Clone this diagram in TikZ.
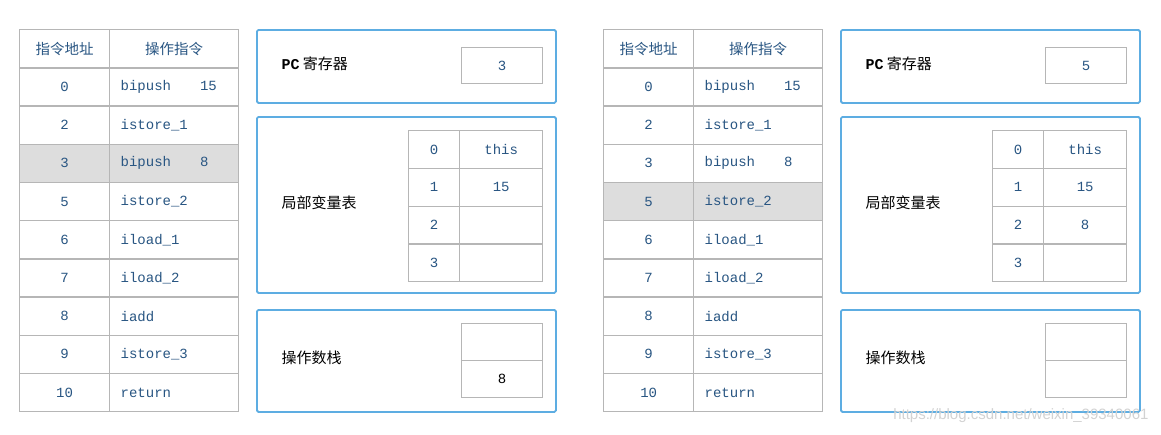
\documentclass[tikz,border=0pt]{standalone}
\usepackage{fontspec}
\setmainfont{Liberation Sans}
\setmonofont{Liberation Mono}
\newfontfamily\cjk{Noto Sans CJK SC}
\usetikzlibrary{positioning}
\definecolor{frameblue}{RGB}{93,173,226}
\definecolor{gridgray}{RGB}{182,182,182}
\definecolor{codeblue}{RGB}{40,85,130}
\definecolor{rowgray}{RGB}{221,221,221}

\tikzset{
    cell/.style={draw=gridgray, line width=1.3pt, inner sep=0pt, anchor=north west,
        text=codeblue, font=\fontsize{14}{16}\selectfont\ttfamily},
    addr/.style={cell, minimum width=90pt, minimum height=38.2pt},
    instr/.style={cell, minimum height=38.2pt, text width=107pt, inner xsep=11pt, align=left},
    head/.style={cell, minimum height=38.2pt, font=\fontsize{14.5}{16}\selectfont\cjk},
    panel/.style={draw=frameblue, line width=1.8pt, rounded corners=1.5pt, inner sep=0pt,
        anchor=north west, minimum width=299pt},
    tag/.style={anchor=west, text=black, font=\fontsize{15}{17}\selectfont\cjk},
}

\begin{document}
\begin{tikzpicture}[x=1pt, y=-1pt]
    \useasboundingbox (0,0) rectangle (1161,434);
    % s / shift / highlighted row / pc / local 2 / stack top
    \foreach \s/\dx/\hl/\pc/\lv/\st in {l/0/3/3/{}/8, r/584/4/5/8/{}} {
    \begin{scope}[xshift=\dx pt]
        % instruction table
        \node[head, minimum width=90pt] (\s ah) at (19,29) {指令地址};
        \node[head, minimum width=129pt] (\s oh) at (109,29) {操作指令};
        \foreach \a/\op [count=\i] in {0/{bipush\hspace{29pt}15}, 2/istore\_1, 3/{bipush\hspace{29pt}8},
            5/istore\_2, 6/iload\_1, 7/iload\_2, 8/iadd, 9/istore\_3, 10/return} {
            \ifnum\i=\hl \def\bg{rowgray}\else\def\bg{white}\fi
            \node[addr, fill=\bg] (\s a\i) at (19,29+38.2*\i) {\a};
            \node[instr, fill=\bg] (\s o\i) at (109,29+38.2*\i) {\op};
        }
        % pc register
        \node[panel, minimum height=73pt] (\s pc) at (256,29) {};
        \node[tag] (\s pct) at (278,64) {{\ttfamily\bfseries PC} 寄存器};
        \node[cell, minimum width=81pt, minimum height=36pt] (\s pcv) at (461,47) {\pc};
        % local variables
        \node[panel, minimum height=176pt] (\s lv) at (256,116) {};
        \node[tag] (\s lvt) at (278,203) {局部变量表};
        \foreach \k/\v [count=\j from 0] in {0/this, 1/15, 2/\lv, 3/{}} {
            \node[cell, minimum width=51pt, minimum height=37.75pt] (\s lk\j) at (408,130+37.75*\j) {\k};
            \node[cell, minimum width=83pt, minimum height=37.75pt] (\s lv\j) at (459,130+37.75*\j) {\v};
        }
        % operand stack
        \node[panel, minimum height=102pt] (\s st) at (256,309) {};
        \node[tag] (\s stt) at (278,358) {操作数栈};
        \node[cell, minimum width=81pt, minimum height=37pt] (\s s1) at (461,323) {};
        \node[cell, minimum width=81pt, minimum height=37pt, text=black] (\s s2) at (461,360) {\st};
    \end{scope}
    }
    \node[anchor=east, text=gray!35, font=\fontsize{15}{17}\selectfont] (wm) at (1152,416)
        {https://blog.csdn.net/weixin\_39340061};
\end{tikzpicture}
\end{document}
